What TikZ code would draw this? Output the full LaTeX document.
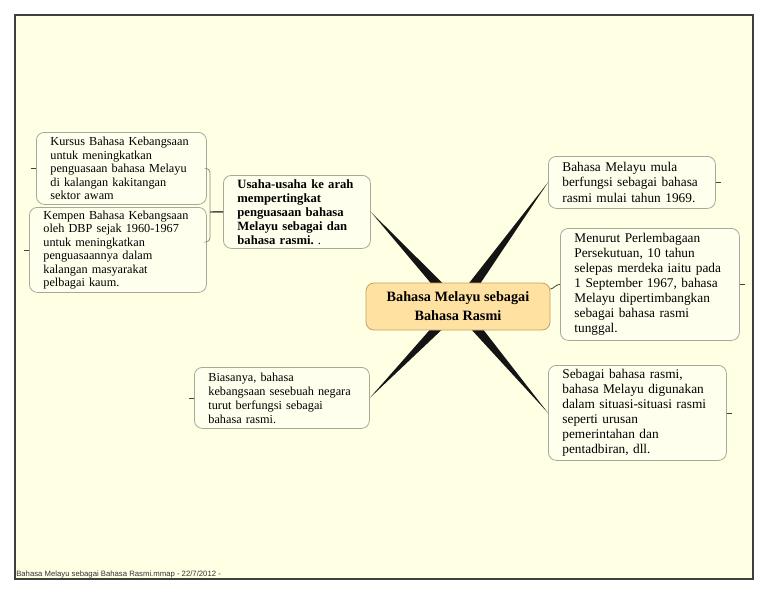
\documentclass[tikz,border=0pt]{standalone}
\usepackage{fontspec}
\setmainfont{Liberation Serif}
\newfontfamily\footfont{Liberation Sans}
\usepackage{xcolor}
\usetikzlibrary{calc}
\definecolor{pagefill}{HTML}{FFFFE4}
\definecolor{leaffill}{HTML}{FFFFEE}
\definecolor{leafline}{HTML}{A8A898}
\definecolor{hubfill}{HTML}{FFE2A2}
\definecolor{hubline}{HTML}{C4A066}
\definecolor{twigline}{HTML}{8C8C7C}
\begin{document}
\begin{tikzpicture}[x=0.75pt, y=-0.75pt,
    leaf/.style={draw=leafline, fill=leaffill, line width=0.6pt, rounded corners=6pt,
        anchor=north west, align=left, inner xsep=10.5pt, inner ysep=1pt},
    smallfont/.style={font=\fontsize{9.2}{10.1}\selectfont},
    midfont/.style={font=\fontsize{9.2}{10.5}\selectfont},
    boldfont/.style={font=\fontsize{9.5}{10.5}\selectfont\bfseries},
    bigfont/.style={font=\fontsize{10}{11.3}\selectfont},
    hub/.style={draw=hubline, fill=hubfill, line width=0.6pt, rounded corners=6pt,
        align=center, minimum width=138pt, minimum height=35.25pt,
        font=\fontsize{10.7}{14.25}\selectfont\bfseries},
    branch/.style={fill=black!92},
    twig/.style={draw=twigline, line width=0.6pt},
    stem/.style={draw=black!70, line width=1.1pt},
    stub/.style={draw=black!75, line width=0.6pt}]
    \useasboundingbox (0,0) rectangle (768,594);
    \draw[fill=pagefill, draw=black!75, line width=1.2pt] (15,15) rectangle (753,579);
    \node[anchor=base west, inner sep=0pt, text=black!80, font=\footfont\fontsize{5.8}{6}\selectfont] (footer) at (16,576)
        {Bahasa Melayu sebagai Bahasa Rasmi.mmap - 22/7/2012 -};

    \node[leaf, smallfont, text width=106.5pt, minimum height=54pt] (kursus) at (36,132)
        {Kursus Bahasa Kebangsaan\\untuk meningkatkan\\penguasaan bahasa Melayu\\di kalangan kakitangan\\sektor awam};
    \node[leaf, smallfont, text width=111.75pt, minimum height=63.75pt] (kempen) at (29,207)
        {Kempen Bahasa Kebangsaan\\oleh DBP sejak 1960-1967\\untuk meningkatkan\\penguasaannya dalam\\kalangan masyarakat\\pelbagai kaum.};
    \node[leaf, boldfont, text width=89.25pt, minimum height=54.75pt] (usaha) at (223,175)
        {Usaha-usaha ke arah\\mempertingkat\\penguasaan bahasa\\Melayu sebagai dan\\bahasa rasmi.\ {\mdseries.}};
    \node[leaf, midfont, text width=110.25pt, minimum height=45.75pt] (biasanya) at (194,367)
        {Biasanya, bahasa\\kebangsaan sesebuah negara\\turut berfungsi sebagai\\bahasa rasmi.};
    \node[leaf, bigfont, text width=104.25pt, minimum height=39pt] (mula) at (548,156)
        {Bahasa Melayu mula\\berfungsi sebagai bahasa\\rasmi mulai tahun 1969.};
    \node[leaf, bigfont, text width=113.25pt, minimum height=84pt] (menurut) at (560,228)
        {Menurut Perlembagaan\\Persekutuan, 10 tahun\\selepas merdeka iaitu pada\\1 September 1967, bahasa\\Melayu dipertimbangkan\\sebagai bahasa rasmi\\tunggal.};
    \node[leaf, bigfont, text width=112.5pt, minimum height=71.25pt] (sebagai) at (548,365)
        {Sebagai bahasa rasmi,\\bahasa Melayu digunakan\\dalam situasi-situasi rasmi\\seperti urusan\\pemerintahan dan\\pentadbiran, dll.};

    \coordinate (cc) at (458,306.5);
    \foreach \tgt in {usaha.east, mula.west, biasanya.east, sebagai.west}
        \fill[branch] ($(cc)!4.3pt!90:(\tgt)$) -- (\tgt) -- ($(cc)!4.3pt!-90:(\tgt)$) -- cycle;
    \node[hub] (hub) at (cc) {Bahasa Melayu sebagai\\Bahasa Rasmi};
    \draw[stub] ([yshift=13pt]hub.east) to[out=15, in=180] (menurut.west);

    \coordinate (fork) at (210,212);
    \draw[twig, rounded corners=3pt] (kursus.east) -| (fork);
    \draw[twig, rounded corners=3pt] ([yshift=6pt]kempen.east) -| (fork);
    \draw[stem] (fork) -- (usaha.west);

    \draw[stub] (kursus.west) -- ++(-5,0);
    \draw[stub] (kempen.west) -- ++(-5,0);
    \draw[stub] (biasanya.west) -- ++(-5,0);
    \draw[stub] (mula.east) -- ++(5,0);
    \draw[stub] (menurut.east) -- ++(5,0);
    \draw[stub] (sebagai.east) -- ++(5,0);
\end{tikzpicture}
\end{document}
